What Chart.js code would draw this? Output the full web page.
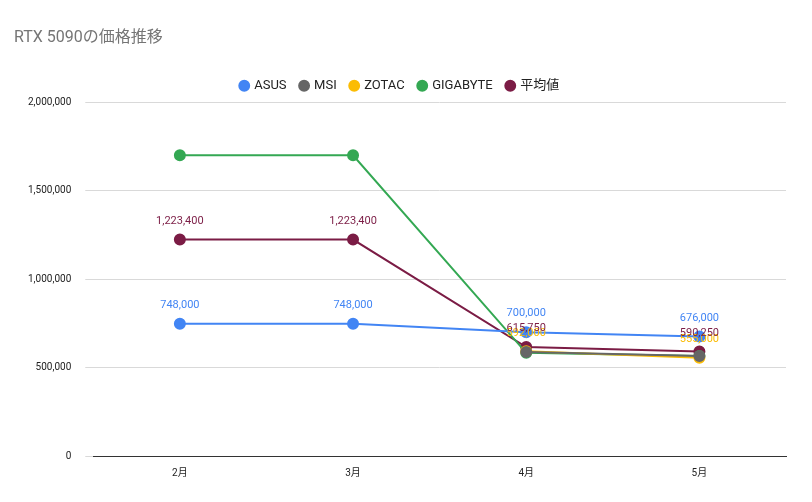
<!DOCTYPE html>
<html><head><meta charset="utf-8">
<script src="https://cdn.jsdelivr.net/npm/chart.js@4"></script>
<style>body{margin:0;background:#fff}#w{width:812px;height:502px;position:relative}</style>
</head><body><div id="w"><canvas id="c"></canvas></div>
<script>
const categories = ['2月','3月','4月','5月'];
const asus = [748000, 748000, 700000, 676000];
const msi = [null, null, 588000, 565000];
const zotac = [null, null, 592000, 555000];
const gigabyte = [1700000, 1700000, 583000, 565000];
const average = [1223400, 1223400, 615750, 590250];
const yTicks = [0, 500000, 1000000, 1500000, 2000000];
const fmt = v => v.toLocaleString('en-US');
const F = 'Roboto, "Noto Sans CJK JP", sans-serif';
const mk = (label, data, color, lbl) => ({label, data, borderColor: color, backgroundColor: color,
  pointRadius: 5, pointHoverRadius: 5, borderWidth: 2, tension: 0, spanGaps: false, showLbl: lbl});
const labelsPlugin = {id:'lbl', afterDatasetsDraw(ch){
  const ctx = ch.ctx; ctx.save(); ctx.font = '11px '+F; ctx.textAlign='center'; ctx.textBaseline='bottom';
  ch.data.datasets.forEach((ds,i)=>{ if(!ds.showLbl) return;
    ch.getDatasetMeta(i).data.forEach((p,j)=>{ if(ds.data[j]==null) return;
      ctx.fillStyle = ds.borderColor; ctx.fillText(fmt(ds.data[j]), p.x, p.y-13); });
  }); ctx.restore(); }};
new Chart(document.getElementById('c'), {
  type:'line',
  data:{labels:categories, datasets:[
    mk('ASUS', asus, '#4285f4', true),
    mk('MSI', msi, '#666666', false),
    mk('ZOTAC', zotac, '#fbbc04', true),
    mk('GIGABYTE', gigabyte, '#34a853', false),
    mk('平均値', average, '#7b1c45', true)
  ]},
  options:{responsive:true, maintainAspectRatio:false, animation:false,
    layout:{padding:{left:14,right:26,top:16,bottom:20}},
    plugins:{
      title:{display:true, text:'RTX 5090の価格推移', align:'start', color:'#757575',
        font:{family:F, size:16, weight:'normal'}, padding:{top:12,bottom:18}},
      legend:{labels:{usePointStyle:true, pointStyle:'circle', boxWidth:7, boxHeight:7,
        color:'#222', font:{family:F, size:13}, padding:14}},
      tooltip:{enabled:false}
    },
    scales:{
      x:{offset:true, grid:{display:false}, border:{color:'#333'}, ticks:{color:'#222', font:{family:F,size:10}}},
      y:{min:0, max:2000000, afterBuildTicks:a=>{a.ticks = yTicks.map(v=>({value:v}))},
        grid:{color:'#d9d9d9'}, border:{display:false},
        ticks:{color:'#222', font:{family:F,size:10}, padding:14, callback:v=>fmt(v)}}
    }
  },
  plugins:[labelsPlugin]
});
</script></body></html>
